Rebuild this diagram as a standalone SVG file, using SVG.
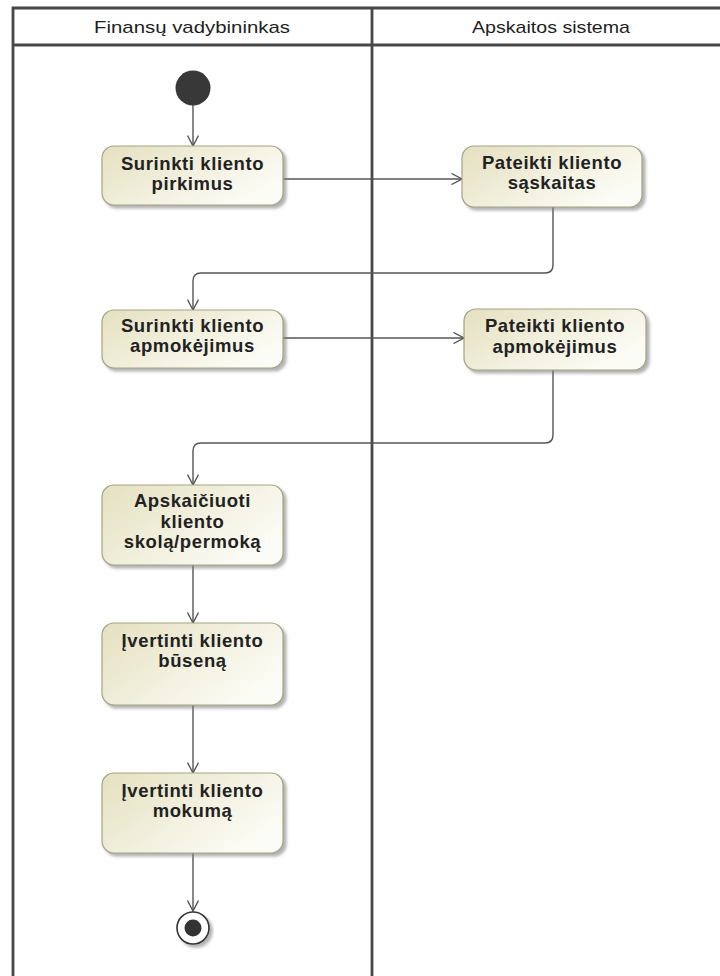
<svg xmlns="http://www.w3.org/2000/svg" width="720" height="976" viewBox="0 0 720 976">
  <style>
    .lane { fill: none; stroke: #474747; stroke-width: 2.8; }
    .lane-title { font-family: "Liberation Sans", Arial, sans-serif; font-size: 17px; fill: #1e1e1e; text-anchor: middle; }
    .act { fill: url(#actFill); stroke: #a6a384; stroke-width: 1.2; filter: url(#shadow); }
    .label { font-family: "Liberation Sans", Arial, sans-serif; font-size: 18.5px; font-weight: bold; letter-spacing: 0.6px; fill: #222; text-anchor: middle; }
    .flow { fill: none; stroke: #555; stroke-width: 1.4; marker-end: url(#open); }
  </style>
  <defs>
    <linearGradient id="actFill" x1="0" y1="0" x2="1" y2="0.6">
      <stop offset="0" stop-color="#e4e0c0"/>
      <stop offset="0.6" stop-color="#f3f1e0"/>
      <stop offset="1" stop-color="#fcfcf6"/>
    </linearGradient>
    <filter id="shadow" x="-10%" y="-10%" width="125%" height="130%">
      <feDropShadow dx="3" dy="3" stdDeviation="1.6" flood-color="#808080" flood-opacity="0.6"/>
    </filter>
    <marker id="open" viewBox="0 0 12 12" refX="11" refY="6" markerWidth="12" markerHeight="12" markerUnits="userSpaceOnUse" orient="auto">
      <path d="M0.5,0.5 L11,6 L0.5,11.5" fill="none" stroke="#555" stroke-width="1.4"/>
    </marker>
  </defs>

  <rect width="720" height="976" fill="#ffffff"/>

  <!-- swimlanes -->
  <g id="lanes">
    <path class="lane" d="M13,980 V8 H724 M13,45 H724 M372,8 V980"/>
    <text class="lane-title" x="192" y="33" textLength="196" lengthAdjust="spacingAndGlyphs">Finansų vadybininkas</text>
    <text class="lane-title" x="551" y="33" textLength="158" lengthAdjust="spacingAndGlyphs">Apskaitos sistema</text>
  </g>

  <!-- connectors -->
  <g id="connectors">
    <path class="flow" d="M193,105 V146"/>
    <path class="flow" d="M283,179 H462"/>
    <path class="flow" d="M553,207 V265 Q553,273 545,273 H201 Q193,273 193,281 V310"/>
    <path class="flow" d="M283,338 H464"/>
    <path class="flow" d="M553,370 V435 Q553,443 545,443 H201 Q193,443 193,451 V485"/>
    <path class="flow" d="M193,565 V623"/>
    <path class="flow" d="M193,705 V773"/>
    <path class="flow" d="M193,853 V911"/>
  </g>

  <g id="start">
    <circle cx="193" cy="88" r="17.5" fill="#383838"/>
  </g>

  <g id="surinkti-pirkimus">
    <rect class="act" x="102" y="146" width="181" height="59" rx="12"/>
    <text class="label" x="192.5" y="170">Surinkti kliento</text>
    <text class="label" x="192.5" y="190">pirkimus</text>
  </g>

  <g id="pateikti-saskaitas">
    <rect class="act" x="462" y="146" width="180" height="61" rx="12"/>
    <text class="label" x="552" y="169">Pateikti kliento</text>
    <text class="label" x="552" y="189">sąskaitas</text>
  </g>

  <g id="surinkti-apmokejimus">
    <rect class="act" x="102" y="310" width="181" height="58" rx="12"/>
    <text class="label" x="192.5" y="332">Surinkti kliento</text>
    <text class="label" x="192.5" y="352">apmokėjimus</text>
  </g>

  <g id="pateikti-apmokejimus">
    <rect class="act" x="464" y="309" width="182" height="61" rx="12"/>
    <text class="label" x="555" y="332">Pateikti kliento</text>
    <text class="label" x="555" y="353">apmokėjimus</text>
  </g>

  <g id="apskaiciuoti">
    <rect class="act" x="102" y="485" width="181" height="80" rx="12"/>
    <text class="label" x="192.5" y="507">Apskaičiuoti</text>
    <text class="label" x="192.5" y="528">kliento</text>
    <text class="label" x="192.5" y="548">skolą/permoką</text>
  </g>

  <g id="ivertinti-busena">
    <rect class="act" x="102" y="623" width="181" height="82" rx="12"/>
    <text class="label" x="192.5" y="647">Įvertinti kliento</text>
    <text class="label" x="192.5" y="667">būseną</text>
  </g>

  <g id="ivertinti-mokuma">
    <rect class="act" x="102" y="773" width="181" height="80" rx="12"/>
    <text class="label" x="192.5" y="797">Įvertinti kliento</text>
    <text class="label" x="192.5" y="817">mokumą</text>
  </g>

  <g id="end">
    <circle cx="193" cy="928" r="16" fill="#ffffff" stroke="#333" stroke-width="1.6" filter="url(#shadow)"/>
    <circle cx="193" cy="928" r="8.5" fill="#333"/>
  </g>
</svg>
